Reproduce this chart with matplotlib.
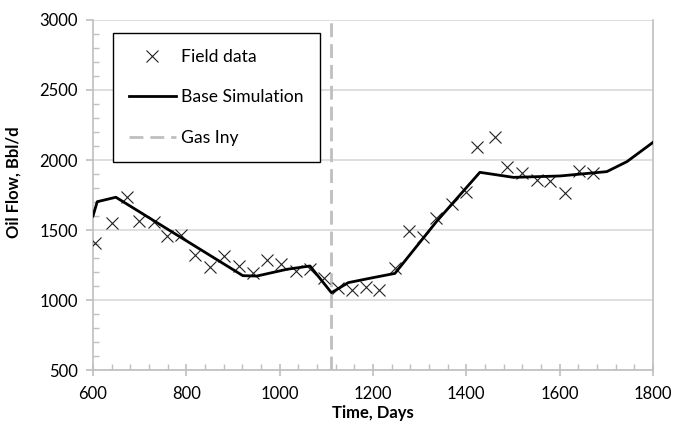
import matplotlib
matplotlib.use("Agg")
import matplotlib.pyplot as plt
from matplotlib.ticker import MultipleLocator

plt.rcParams['font.family'] = ['Lato', 'DejaVu Sans']

# Field data
field_t = [604, 640, 672, 699, 731, 759, 788, 819, 851, 881, 912, 942, 972, 1002,
           1034, 1065, 1096, 1126, 1154, 1185, 1213, 1247, 1278, 1308, 1336, 1369,
           1399, 1422, 1461, 1488, 1519, 1551, 1579, 1611, 1642, 1672]
field_q = [1405, 1552, 1734, 1566, 1559, 1459, 1464, 1321, 1234, 1314, 1243, 1191,
           1286, 1257, 1209, 1219, 1155, 1084, 1071, 1091, 1071, 1226, 1493, 1452,
           1583, 1686, 1774, 2095, 2167, 1952, 1905, 1857, 1852, 1762, 1924, 1905]

# Base simulation
sim_t = [600, 609, 649, 921, 951, 1015, 1065, 1111, 1147, 1193, 1247, 1336, 1429,
         1501, 1601, 1701, 1744, 1800]
sim_q = [1600, 1702, 1734, 1174, 1171, 1219, 1243, 1052, 1124, 1155, 1190, 1560, 1912,
         1876, 1886, 1917, 1988, 2126]

gas_inj_t = 1111

fig = plt.figure(figsize=(6.73, 4.23), dpi=100)
ax = fig.add_axes([93/673, 1-370/423, 560/673, 350/423])

grid_c = '#D9D9D9'
axis_c = '#BFBFBF'

ax.set_xlim(600, 1800)
ax.set_ylim(500, 3000)
ax.xaxis.set_major_locator(MultipleLocator(200))
ax.xaxis.set_minor_locator(MultipleLocator(40))
ax.yaxis.set_major_locator(MultipleLocator(500))
ax.yaxis.set_minor_locator(MultipleLocator(100))
ax.yaxis.grid(True, which='major', color=grid_c, linewidth=1.2)
ax.set_axisbelow(True)

for s in ['left', 'bottom', 'right']:
    ax.spines[s].set_color(axis_c)
    ax.spines[s].set_linewidth(1.2)
ax.spines['top'].set_visible(False)

ax.tick_params(axis='both', which='major', direction='inout', length=8, width=1.2,
               color=axis_c, labelsize=12, labelcolor='black')
ax.tick_params(axis='both', which='minor', direction='in', length=4, width=1.0,
               color=axis_c)
ax.tick_params(axis='y', which='major', direction='out', length=5, pad=6)
ax.tick_params(axis='x', which='major', pad=7.5)

ax.plot(field_t, field_q, linestyle='none', marker='x', markersize=9,
        markeredgewidth=0.8, color='#222222', label='Field data', zorder=3)
ax.plot(sim_t, sim_q, color='black', linewidth=2.0, label='Base Simulation', zorder=4)
ax.axvline(gas_inj_t, color='#BFBFBF', linewidth=2.0, linestyle=(0, (5, 2.5)),
           label='Gas Iny', zorder=2)

ax.set_xlabel('Time, Days', fontsize=12, fontweight='bold', labelpad=2)
ax.set_ylabel('Oil Flow, Bbl/d', fontsize=12, fontweight='bold')
ax.yaxis.set_label_coords(-0.128, 0.537)

leg = ax.legend(loc='upper left', bbox_to_anchor=(20/560, 1-13/350), borderaxespad=0,
                fontsize=12.6, frameon=True, fancybox=False, edgecolor='black',
                framealpha=1, labelspacing=1.4, handlelength=2.7,
                handletextpad=0.3, borderpad=0.9)
leg.get_frame().set_linewidth(1.0)

fig.savefig('out.png', dpi=100)
